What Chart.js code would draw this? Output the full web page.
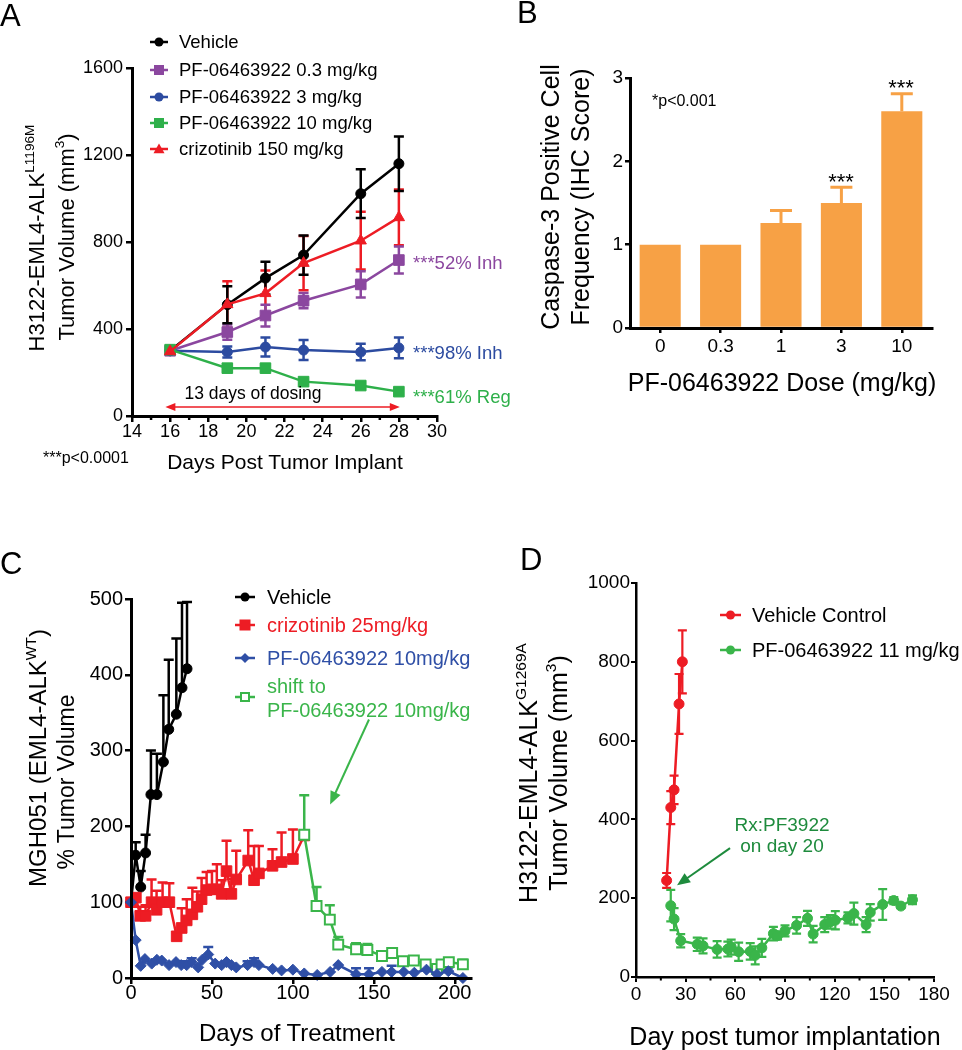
<!DOCTYPE html>
<html><head><meta charset="utf-8">
<script src="https://cdn.jsdelivr.net/npm/chart.js@4.4.1/dist/chart.umd.min.js"></script>
<style>
html,body{margin:0;padding:0;background:#fff;}
#wrap{position:relative;width:962px;height:1050px;overflow:hidden;background:#fff;font-family:"Liberation Sans",Arial,sans-serif;}
canvas{position:absolute;left:0;top:0;}
.t{position:absolute;white-space:nowrap;line-height:1;}
.sup{font-size:0.62em;position:relative;top:-0.7em;}
</style></head><body><div id="wrap">
<canvas id="cA" width="962" height="1050"></canvas>
<canvas id="cB" width="962" height="1050"></canvas>
<canvas id="cC" width="962" height="1050"></canvas>
<canvas id="cD" width="962" height="1050"></canvas>
</div>
<script>
// ---------------- DATA ----------------
// Panel A
const aDays = [16, 19, 21, 23, 26, 28];
const aVehicle = [300, 512, 634, 740, 1022, 1160];
const aVehicleErr = [0, 85, 75, 90, 112, 125];
const aPF03 = [300, 386, 462, 530, 605, 717];
const aPF03Err = [0, 35, 50, 35, 60, 62];
const aPF3 = [300, 294, 317, 303, 294, 313];
const aPF3Err = [0, 25, 44, 46, 38, 48];
const aPF10 = [305, 220, 220, 158, 140, 112];
const aPF10Err = [0, 15, 15, 10, 10, 10];
const aCriz = [297, 513, 564, 703, 806, 913];
const aCrizErr = [0, 107, 105, 125, 133, 128];
const aXTicks = [14, 16, 18, 20, 22, 24, 26, 28, 30];
const aXMinor = [15, 17, 19, 21, 23, 25, 27, 29];
const aYTicks = [0, 400, 800, 1200, 1600];

// Panel B
const bDoses = ['0', '0.3', '1', '3', '10'];
const bScore = [1.0, 1.0, 1.26, 1.5, 2.6];
const bErr = [0, 0, 0.15, 0.19, 0.21];
const bYTicks = [0, 1, 2, 3];

// Panel C
const cVehDays = [0, 2.9, 6, 9, 12.3, 16, 20, 23.3, 28, 31.5, 34.6];
const cVehVals = [100, 162, 120, 165, 242, 242, 285, 328, 348, 383, 408];
const cVehErr = [0, 17, 21, 24, 58, 54, 88, 92, 100, 112, 88];
const cCrizDays = [0, 3, 5.7, 9, 12.7, 15.8, 19.5, 23.7, 28.2, 31.3, 34.4, 37.9, 41, 43.6, 46.7, 50, 53, 56, 59, 62, 65, 72.4, 76, 79, 87.4, 93, 100, 107];
const cCrizVals = [100, 106, 82, 82, 100, 90, 100, 100, 55, 66, 76, 84, 94, 104, 116, 117, 117, 111, 141, 111, 130, 155, 129, 138, 148, 153, 157, 188];
const cCrizErr = [0, 0, 12, 14, 30, 25, 26, 25, 0, 26, 28, 35, 20, 28, 24, 24, 33, 18, 40, 20, 38, 40, 45, 36, 22, 39, 39, 0];
const cPFDays = [0, 2.9, 6, 8.6, 12.8, 16, 19, 23.5, 27.8, 31, 34.4, 37.5, 41.5, 44, 47.7, 52, 56, 59, 62, 65, 72, 76, 79, 87.5, 93, 100, 107, 115, 123, 128, 139, 147, 155, 161, 168.5, 175, 182.5, 189, 196, 205];
const cPFVals = [100, 50, 16, 25, 19, 24, 23, 17, 21, 17, 17, 21, 14, 24, 31, 19, 17, 21, 17, 14, 17, 21, 17, 12, 10, 11, 6, 4, 8, 17, 5, 5, 8, 8, 8, 7, 11, 5, 9, 0];
const cPFErr = [0, 0, 0, 0, 0, 0, 0, 0, 0, 5, 5, 5, 0, 0, 10, 0, 0, 0, 0, 0, 5, 5, 0, 0, 0, 0, 0, 0, 0, 0, 8, 8, 0, 8, 0, 0, 0, 0, 5, 0];
const cShiftDays = [107, 114.6, 122.8, 128, 139, 146, 155, 161.3, 168, 174.7, 182, 189, 191.8, 196.3, 205];
const cShiftVals = [189, 95, 77, 44, 38, 37, 29, 33, 22, 23, 18, 12, 18, 21, 18];
const cShiftErr = [52, 25, 19, 10, 8, 8, 4, 4, 5, 5, 4, 4, 4, 4, 6];
const cXTicks = [0, 50, 100, 150, 200];
const cYTicks = [0, 100, 200, 300, 400, 500];

// Panel D
const dVehDays = [18.5, 21, 23, 26, 28];
const dVehVals = [245, 430, 475, 693, 800];
const dVehErr = [19, 42, 36, 76, 80];
const dPFDays = [21, 23, 27, 37, 40.5, 49, 55.5, 57.5, 62, 69, 72, 76, 83, 85.5, 90, 97, 103.6, 107, 114, 117.4, 120.4, 128, 131.6, 139, 141.5, 149, 155.7, 160, 167];
const dPFVals = [181, 147, 92, 83, 79, 70, 71, 76, 64, 65, 55, 74, 110, 105, 117, 131, 149, 109, 133, 140, 144, 150, 161, 133, 164, 184, 194, 180, 196];
const dPFErr = [40, 28, 17, 17, 19, 21, 19, 19, 23, 21, 23, 23, 17, 10, 14, 21, 19, 21, 19, 17, 23, 14, 28, 19, 21, 39, 9, 5, 11];
const dXTicks = [0, 30, 60, 90, 120, 150, 180];
const dXMinor = [15, 45, 75, 105, 135, 165];
const dYTicks = [0, 200, 400, 600, 800, 1000];

// ---------------- STYLE ----------------
const FONT = '"Liberation Sans", Arial, sans-serif';
const BLACK = '#000000', RED = '#ED1C24', PURPLE = '#8B479F', BLUE_A = '#2C4BA0';
const GREEN_A = '#2EB04A', ORANGE = '#F7A145', BLUE_C = '#2F4FA6', GREEN_C = '#3AB54A', DKGREEN = '#1E8B3D';

// ---------------- HELPERS ----------------
const wrap = document.getElementById('wrap');
function txt(html, x, y, size, o = {}) {
  const d = document.createElement('div');
  d.className = 't';
  d.innerHTML = html;
  d.style.left = x + 'px'; d.style.top = y + 'px';
  d.style.fontSize = size + 'px';
  d.style.color = o.color || '#000';
  const ax = o.align === 'left' ? '0' : (o.align === 'right' ? '-100%' : '-50%');
  d.style.transform = 'translate(' + ax + ',-50%)' + (o.rot ? ' rotate(-90deg)' : '');
  wrap.appendChild(d);
}
function sym(shape, color, x1, x2, cy, r, lw) {
  const w = x2 - x1, h = 24, c = 12, cx = w / 2;
  let m = '';
  if (shape === 'circle') m = `<circle cx="${cx}" cy="${c}" r="${r}" fill="${color}"/>`;
  else if (shape === 'rect') m = `<rect x="${cx - r}" y="${c - r}" width="${2 * r}" height="${2 * r}" fill="${color}"/>`;
  else if (shape === 'rectOpen') m = `<rect x="${cx - r + 1}" y="${c - r + 1}" width="${2 * r - 2}" height="${2 * r - 2}" fill="#fff" stroke="${color}" stroke-width="2"/>`;
  else if (shape === 'triangle') m = `<polygon points="${cx},${c - r} ${cx + r},${c + r * 0.75} ${cx - r},${c + r * 0.75}" fill="${color}"/>`;
  else if (shape === 'diamond') m = `<polygon points="${cx},${c - r} ${cx + r},${c} ${cx},${c + r} ${cx - r},${c}" fill="${color}"/>`;
  const d = document.createElement('div');
  d.style.position = 'absolute'; d.style.left = x1 + 'px'; d.style.top = (cy - c) + 'px';
  d.innerHTML = `<svg width="${w}" height="${h}"><line x1="0" y1="${c}" x2="${w}" y2="${c}" stroke="${color}" stroke-width="${lw}"/>${m}</svg>`;
  wrap.appendChild(d);
}
function errPlugin(capHalf, lw, after) {
  const draw = (chart) => {
    const ctx = chart.ctx, ys = chart.scales.y;
    ctx.save();
    chart.data.datasets.forEach((ds, i) => {
      if (!ds.errors) return;
      const meta = chart.getDatasetMeta(i);
      ctx.strokeStyle = ds.errColor || ds.borderColor || ds.backgroundColor;
      ctx.lineWidth = lw; ctx.lineCap = 'butt';
      ds.errors.forEach((e, j) => {
        if (!e) return;
        const el = meta.data[j]; const raw = ds.data[j];
        const v = (typeof raw === 'object') ? raw.y : raw;
        const x = el.x;
        const yT = ys.getPixelForValue(v + e);
        const yB = ys.getPixelForValue(ds.errMode === 'up' ? v : v - e);
        ctx.beginPath();
        ctx.moveTo(x, yB); ctx.lineTo(x, yT);
        ctx.moveTo(x - capHalf, yT); ctx.lineTo(x + capHalf, yT);
        if (ds.errMode !== 'up') { ctx.moveTo(x - capHalf, yB); ctx.lineTo(x + capHalf, yB); }
        ctx.stroke();
      });
    });
    ctx.restore();
  };
  return after ? { id: 'errAfter', afterDatasetsDraw: draw } : { id: 'errBefore', beforeDatasetsDraw: draw };
}
function minorPlugin(axis, values, len, lw) {
  return { id: 'minor', afterDraw(chart) {
    const ctx = chart.ctx, sc = chart.scales[axis];
    ctx.save(); ctx.strokeStyle = '#000'; ctx.lineWidth = lw;
    values.forEach(v => {
      const p = sc.getPixelForValue(v);
      ctx.beginPath();
      if (axis === 'x') { ctx.moveTo(p, sc.top); ctx.lineTo(p, sc.top + len); }
      else { ctx.moveTo(sc.right, p); ctx.lineTo(sc.right - len, p); }
      ctx.stroke();
    });
    ctx.restore();
  } };
}
function arrowPlugin(list) {
  return { id: 'arrows', afterDatasetsDraw(chart) {
    const ctx = chart.ctx, xs = chart.scales.x, ys = chart.scales.y;
    list.forEach(a => {
      const x1 = xs.getPixelForValue(a.x1), y1 = ys.getPixelForValue(a.y1);
      const x2 = xs.getPixelForValue(a.x2), y2 = ys.getPixelForValue(a.y2);
      const ang = Math.atan2(y2 - y1, x2 - x1);
      const cs = Math.cos(ang), sn = Math.sin(ang);
      ctx.save(); ctx.strokeStyle = a.color; ctx.fillStyle = a.color; ctx.lineWidth = a.lw;
      const sx = a.both ? x1 + cs * a.hl * 0.8 : x1, sy = a.both ? y1 + sn * a.hl * 0.8 : y1;
      ctx.beginPath(); ctx.moveTo(sx, sy); ctx.lineTo(x2 - cs * a.hl * 0.8, y2 - sn * a.hl * 0.8); ctx.stroke();
      const head = (x, y, c, s) => {
        ctx.beginPath(); ctx.moveTo(x, y);
        ctx.lineTo(x - a.hl * c + a.hw * s, y - a.hl * s - a.hw * c);
        ctx.lineTo(x - a.hl * c - a.hw * s, y - a.hl * s + a.hw * c);
        ctx.closePath(); ctx.fill();
      };
      head(x2, y2, cs, sn);
      if (a.both) head(x1, y1, -cs, -sn);
      ctx.restore();
    });
  } };
}
function pts(xs, ys) { return xs.map((x, i) => ({ x: x, y: ys[i] })); }
function lineDS(label, xs, ys, errs, color, style, r, extra) {
  return Object.assign({
    label: label, data: pts(xs, ys), errors: errs,
    borderColor: color, backgroundColor: color, borderWidth: 2.5,
    pointStyle: style, pointRadius: r, pointBackgroundColor: color,
    pointBorderColor: color, pointBorderWidth: 1, tension: 0, clip: false
  }, extra || {});
}
function axisOpts(o) {
  const ticks = { color: '#000', font: { family: FONT, size: o.fs, lineHeight: 1 }, padding: o.pad, autoSkip: false, maxRotation: 0, minRotation: 0 };
  if ((o.type || 'linear') === 'linear') ticks.callback = (v) => String(v);
  return {
    type: o.type || 'linear', min: o.min, max: o.max, offset: !!o.offset,
    afterFit: o.afterFit,
    afterBuildTicks: o.tickVals ? (s) => { s.ticks = o.tickVals.map(v => ({ value: v })); } : undefined,
    ticks: ticks,
    grid: { display: true, drawOnChartArea: false, drawTicks: true, tickLength: o.tl, color: '#000', lineWidth: o.lw, offset: false },
    border: { display: true, color: '#000', width: o.bw, z: 1 }
  };
}
function mkChart(id, type, data, area, xo, yo, plugins) {
  xo.afterFit = (s) => { s.height = 1050 - area.b; };
  yo.afterFit = (s) => { s.width = area.l; };
  return new Chart(document.getElementById(id), {
    type: type, data: data, plugins: plugins,
    options: {
      responsive: false, animation: false, devicePixelRatio: 1,
      layout: { padding: { left: 0, top: area.t, right: 962 - area.r, bottom: 0 } },
      plugins: { legend: { display: false }, tooltip: { enabled: false } },
      scales: { x: axisOpts(xo), y: axisOpts(yo) }
    }
  });
}

// ---------------- PANEL A ----------------
const areaA = { l: 132, r: 437, t: 68, b: 416 };
mkChart('cA', 'line', { datasets: [
  lineDS('crizotinib 150 mg/kg', aDays, aCriz, aCrizErr, RED, 'triangle', 6.5),
  lineDS('PF-06463922 10 mg/kg', aDays, aPF10, aPF10Err, GREEN_A, 'rect', 7.5),
  lineDS('PF-06463922 3 mg/kg', aDays, aPF3, aPF3Err, BLUE_A, 'circle', 5),
  lineDS('PF-06463922 0.3 mg/kg', aDays, aPF03, aPF03Err, PURPLE, 'rect', 7.5),
  lineDS('Vehicle', aDays, aVehicle, aVehicleErr, BLACK, 'circle', 5)
] }, areaA,
  { min: 14, max: 30, tickVals: aXTicks, fs: 18, pad: 1, tl: 6, lw: 2.5, bw: 3 },
  { min: 0, max: 1600, tickVals: aYTicks, fs: 18, pad: 3, tl: 6, lw: 2.5, bw: 3 },
  [errPlugin(5, 2.5, false), minorPlugin('x', aXMinor, 4, 2.5),
   arrowPlugin([{ x1: 15.75, y1: 41, x2: 28.05, y2: 41, color: RED, lw: 1.5, hl: 10, hw: 4, both: true }])]);

txt('A', 0, 15, 31, { align: 'left' });
txt('H3122-EML4-ALK<span class="sup">L1196M</span>', 37, 238, 22, { rot: true });
txt('Tumor Volume (mm<span class="sup">3</span>)', 67, 237, 22, { rot: true });
txt('Days Post Tumor Implant', 285, 461, 21);
txt('***p&lt;0.0001', 43, 458, 16, { align: 'left' });
txt('13 days of dosing', 253, 394, 17.5);
txt('***52% Inh', 413, 263, 18.5, { align: 'left', color: PURPLE });
txt('***98% Inh', 413, 353, 18.5, { align: 'left', color: BLUE_A });
txt('***61% Reg', 413, 397, 18.5, { align: 'left', color: GREEN_A });
const aLeg = [
  ['Vehicle', BLACK, 'circle', 4.5, 42],
  ['PF-06463922 0.3 mg/kg', PURPLE, 'rect', 5, 70],
  ['PF-06463922 3 mg/kg', BLUE_A, 'circle', 4.5, 97],
  ['PF-06463922 10 mg/kg', GREEN_A, 'rect', 5, 123],
  ['crizotinib 150 mg/kg', RED, 'triangle', 5.5, 149]
];
aLeg.forEach(l => { sym(l[2], l[1], 150, 168, l[4], l[3], 2.5); txt(l[0], 179, l[4], 18.5, { align: 'left' }); });

// ---------------- PANEL B ----------------
const areaB = { l: 630, r: 932, t: 78, b: 328 };
mkChart('cB', 'bar', { labels: bDoses, datasets: [{
  label: 'Caspase-3', data: bScore, errors: bErr, errMode: 'up', errColor: ORANGE,
  backgroundColor: ORANGE, borderWidth: 0, barPercentage: 0.68, categoryPercentage: 1
}] }, areaB,
  { type: 'category', offset: true, fs: 19, pad: 4, tl: 5, lw: 2.5, bw: 3 },
  { min: 0, max: 3, tickVals: bYTicks, fs: 19, pad: 2, tl: 5, lw: 2.5, bw: 3 },
  [errPlugin(11, 3, true)]);

txt('B', 517, 12, 31, { align: 'left' });
txt('Caspase-3 Positive Cell', 550, 197, 25, { rot: true });
txt('Frequency (IHC Score)', 580, 197, 25, { rot: true });
txt('PF-06463922 Dose (mg/kg)', 782, 382, 25);
txt('*p&lt;0.001', 652, 101, 16, { align: 'left' });
txt('***', 841, 182, 22);
txt('***', 901, 88, 22);

// ---------------- PANEL C ----------------
const areaC = { l: 131, r: 471, t: 599, b: 978 };
mkChart('cC', 'line', { datasets: [
  lineDS('PF-06463922 10mg/kg', cPFDays, cPFVals, cPFErr, BLUE_C, 'rectRot', 5.5, { errMode: 'up' }),
  lineDS('shift to PF-06463922 10mg/kg', cShiftDays, cShiftVals, cShiftErr, GREEN_C, 'rect', 7, { errMode: 'up', pointBackgroundColor: '#ffffff', pointBorderWidth: 2 }),
  lineDS('crizotinib 25mg/kg', cCrizDays, cCrizVals, cCrizErr, RED, 'rect', 7.5, { errMode: 'up' }),
  lineDS('Vehicle', cVehDays, cVehVals, cVehErr, BLACK, 'circle', 5, { errMode: 'up' })
] }, areaC,
  { min: 0, max: 210, tickVals: cXTicks, fs: 20, pad: -1, tl: 6, lw: 2.5, bw: 3 },
  { min: 0, max: 500, tickVals: cYTicks, fs: 20, pad: 2, tl: 6, lw: 2.5, bw: 3 },
  [errPlugin(5, 2.5, false),
   arrowPlugin([{ x1: 147, y1: 341, x2: 123, y2: 229, color: GREEN_C, lw: 2, hl: 13, hw: 5.5 }])]);

txt('C', 0, 563, 31, { align: 'left' });
txt('MGH051 (EML4-ALK<span class="sup">WT</span>)', 38, 758, 24, { rot: true });
txt('% Tumor Volume', 66, 782, 23, { rot: true });
txt('Days of Treatment', 297, 1033, 24);
sym('circle', BLACK, 235, 255, 597, 4.5, 2.5); txt('Vehicle', 267, 597, 20, { align: 'left' });
sym('rect', RED, 235, 255, 625, 5.5, 2.5); txt('crizotinib 25mg/kg', 267, 625, 20, { align: 'left', color: RED });
sym('diamond', BLUE_C, 235, 255, 658, 5, 2.5); txt('PF-06463922 10mg/kg', 267, 658, 20, { align: 'left', color: BLUE_C });
sym('rectOpen', GREEN_C, 235, 255, 697, 5, 2.5);
txt('shift to', 267, 686, 20, { align: 'left', color: GREEN_C });
txt('PF-06463922 10mg/kg', 267, 710, 20, { align: 'left', color: GREEN_C });

// ---------------- PANEL D ----------------
const areaD = { l: 636, r: 934, t: 583, b: 977 };
mkChart('cD', 'line', { datasets: [
  lineDS('Vehicle Control', dVehDays, dVehVals, dVehErr, RED, 'circle', 5),
  lineDS('PF-06463922 11 mg/kg', dPFDays, dPFVals, dPFErr, GREEN_C, 'circle', 5)
] }, areaD,
  { min: 0, max: 180, tickVals: dXTicks, fs: 19, pad: 3, tl: 5, lw: 2, bw: 2.5 },
  { min: 0, max: 1000, tickVals: dYTicks, fs: 19, pad: 1, tl: 5, lw: 2, bw: 2.5 },
  [errPlugin(4.5, 2.2, false), minorPlugin('x', dXMinor, 3.5, 2),
   arrowPlugin([{ x1: 56.8, y1: 327, x2: 24.8, y2: 233, color: DKGREEN, lw: 2, hl: 13, hw: 5.5 }])]);

txt('D', 520, 559, 31, { align: 'left' });
txt('H3122-EML4-ALK<span class="sup">G1269A</span>', 528, 773, 25, { rot: true });
txt('Tumor Volume (mm<span class="sup">3</span>)', 558, 773, 25, { rot: true });
txt('Day post tumor implantation', 785, 1036, 25);
txt('Rx:PF3922', 782, 824, 19, { color: DKGREEN });
txt('on day 20', 782, 845, 19, { color: DKGREEN });
sym('circle', RED, 720, 741, 615, 4.5, 2.5); txt('Vehicle Control', 752, 615, 20, { align: 'left' });
sym('circle', GREEN_C, 720, 741, 650, 4.5, 2.5); txt('PF-06463922 11 mg/kg', 752, 650, 20, { align: 'left' });
</script></body></html>
